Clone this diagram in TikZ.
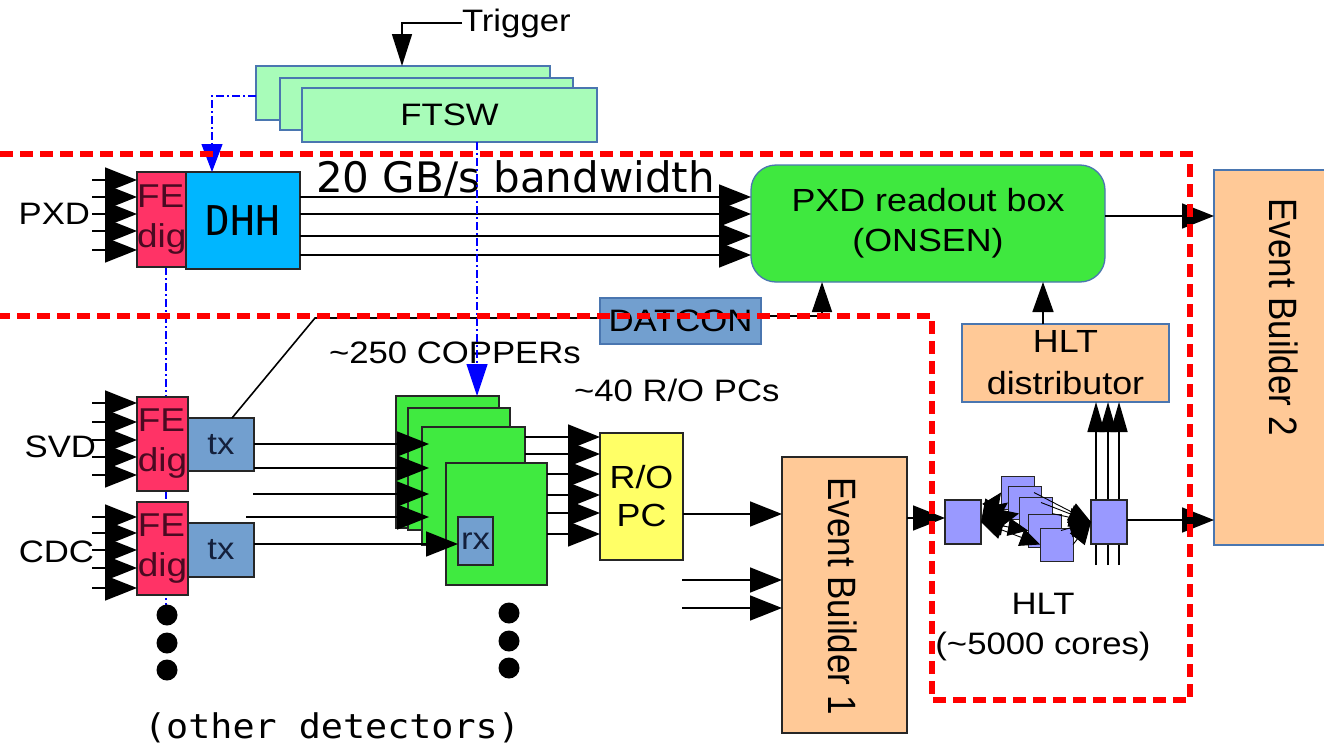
\documentclass[tikz,border=0pt]{standalone}
\usepackage{fontspec}
\setmainfont{Liberation Sans}[FakeStretch=1.12]
\newfontfamily\lsr{Liberation Sans}
\newfontfamily\djv{DejaVu Sans}
\newfontfamily\djm{DejaVu Sans Mono}
\newfontfamily\djmw{DejaVu Sans Mono}[FakeStretch=1.08]
\usetikzlibrary{arrows.meta,shapes.geometric}
\definecolor{fered}{HTML}{FF3366}
\definecolor{fetext}{HTML}{4A0A22}
\definecolor{txtext}{HTML}{14203C}
\definecolor{dhhblue}{HTML}{00B6FF}
\definecolor{onsgreen}{HTML}{3FE83F}
\definecolor{ftswgreen}{HTML}{A8FCB9}
\definecolor{bordblue}{HTML}{4A76B0}
\definecolor{peach}{HTML}{FFC997}
\definecolor{steel}{HTML}{729FCF}
\definecolor{hltp}{HTML}{9999FF}
\definecolor{roy}{HTML}{FFFF66}
\definecolor{cgreen}{HTML}{40EA40}
\begin{document}
\begin{tikzpicture}[x=1pt,y=-1pt,
  every node/.style={inner sep=0pt, outer sep=0pt},
  box/.style={draw, anchor=north west, line width=1.3pt},
  blk/.style={box, draw=black!85},
  bbl/.style={box, draw=bordblue},
  txt/.style={font=\fontsize{31}{40}\selectfont, align=center},
  fetxt/.style={font=\fontsize{33}{40}\selectfont, align=left, text=fetext},
  ar/.style={line width=1.6pt, -{Triangle[length=32pt,width=25pt]}},
  ln/.style={line width=1.6pt},
  har/.style={line width=0.9pt, {Triangle[length=22pt,width=19pt]}-{Triangle[length=20pt,width=18pt]}},
  har2/.style={line width=0.9pt, -{Triangle[length=22pt,width=19pt]}},
  bdash/.style={blue, line width=1.2pt, dash pattern=on 8pt off 3pt on 2pt off 3pt},
  rdash/.style={red, line width=5.5pt, dash pattern=on 13pt off 7pt},
  bigdot/.style={fill=black, ellipse, minimum width=21pt, minimum height=21pt},
  rot/.style={rotate=-90, font=\lsr\fontsize{35}{40}\selectfont}
]
\useasboundingbox (0,0) rectangle (1324,747);

% blue vertical dashed line behind the FE boxes
\coordinate (blueend) at (166,610);
\coordinate (bluetop) at (166,267);
\draw[bdash] (bluetop) -- (blueend);

% FTSW stack and trigger
\node[bbl, fill=ftswgreen, minimum width=294pt, minimum height=54pt] (ftsw1) at (256,66) {};
\node[bbl, fill=ftswgreen, minimum width=293pt, minimum height=52pt] (ftsw2) at (280,78) {};
\node[bbl, fill=ftswgreen, minimum width=295pt, minimum height=54pt, txt] (ftsw) at (302,88) {FTSW};
\coordinate (trigin) at (402,66);
\node[txt, anchor=west] (trig) at (462,23) {Trigger};
\draw[ln, -{Triangle[length=32pt,width=20pt]}] (trig.west) -| (trigin);

% PXD row
\node[txt, anchor=east] (pxdl) at (90,214) {PXD};
\node[blk, fill=fered, minimum width=49pt, minimum height=95pt, fetxt] (fepxd) at (137,172) {FE\\dig};
\node[blk, fill=dhhblue, minimum width=114pt, minimum height=97pt, font=\djm\fontsize{41}{48}\selectfont] (dhh) at (186,172) {DHH};
\foreach \y in {180,197,214,231,250} \draw[ar] (92,\y) -- (fepxd.west |- 0,\y);
\node[font=\djv\fontsize{42}{48}\selectfont, anchor=base west] (bw) at (316,192) {20 GB/s bandwidth};

\node[bbl, fill=onsgreen, rounded corners=25pt, minimum width=354pt, minimum height=117pt, txt, font=\fontsize{32}{40}\selectfont] (onsen) at (751,165) {PXD readout box\\(ONSEN)};
\foreach \y in {197,214,236,255} \draw[ar] (dhh.east |- 0,\y) -- (onsen.west |- 0,\y);

% Event builder 2
\node[bbl, fill=peach, minimum width=120pt, minimum height=375pt] (eb2) at (1214,170) {};
\node[rot] (eb2t) at (1284,317) {\scalebox{1}[1.13]{Event Builder 2}};
\draw[ar] (onsen.east |- 0,216) -- (eb2.west |- 0,216);

% DATCON
\node[bbl, fill=steel, minimum width=161pt, minimum height=46pt, txt] (datcon) at (600,298) {DATCON};

% HLT distributor
\node[bbl, fill=peach, minimum width=207pt, minimum height=78pt, txt, font=\fontsize{32}{42}\selectfont] (hltd) at (962,324) {HLT\\distributor};
\draw[ln, -{Triangle[length=30pt,width=21pt]}] (hltd.north -| 1043,0) -- (onsen.south -| 1043,0);

% SVD row
\node[txt, anchor=east] (svdl) at (96,447) {SVD};
\node[blk, fill=fered, minimum width=51pt, minimum height=94pt, fetxt] (fesvd) at (137,397) {FE\\dig};
\node[blk, fill=steel, minimum width=66pt, minimum height=53pt, txt, text=txtext] (txsvd) at (188,418) {tx};
\foreach \y in {403,422,440,457,475} \draw[ar] (92,\y) -- (fesvd.west |- 0,\y);

% CDC row
\node[txt, anchor=east] (cdcl) at (94,552) {CDC};
\node[blk, fill=fered, minimum width=51pt, minimum height=93pt, fetxt] (fecdc) at (137,502) {FE\\dig};
\node[blk, fill=steel, minimum width=66pt, minimum height=54pt, txt, text=txtext] (txcdc) at (188,523) {tx};
\foreach \y in {517,533,550,568,588} \draw[ar] (92,\y) -- (fecdc.west |- 0,\y);

% tx -> DATCON -> ONSEN
\coordinate (bend) at (315,318);
\draw[ln] (txsvd.north -| 232,0) -- (bend) -- (datcon.west |- 0,318);
\draw[ln, -{Triangle[length=30pt,width=20pt]}] (datcon.east |- 0,316) -| (onsen.south -| 822,0);

% COPPER stack
\node[blk, fill=cgreen, minimum width=103pt, minimum height=132pt] (cp1) at (396,396) {};
\node[blk, fill=cgreen, minimum width=102pt, minimum height=122pt] (cp2) at (408,408) {};
\node[blk, fill=cgreen, minimum width=103pt, minimum height=118pt] (cp3) at (422,427) {};
\node[blk, fill=cgreen, minimum width=101pt, minimum height=122pt] (cp4) at (446,463) {};
\node[blk, fill=steel, minimum width=35pt, minimum height=48pt, txt, text=txtext] (rx) at (458,517) {rx};
\node[txt, anchor=west] (cpl) at (329,353) {\textasciitilde 250 COPPERs};

\draw[ar, shorten >=-7pt] (txsvd.east |- 0,444) -- (cp3.west |- 0,444);
\draw[ar, shorten >=-7pt] (txsvd.east |- 0,468) -- (cp3.west |- 0,468);
\coordinate (f1) at (253,494);
\coordinate (f2) at (246,517);
\draw[ar, shorten >=-7pt] (f1) -- (cp3.west |- 0,494);
\draw[ar, shorten >=-7pt] (f2) -- (cp3.west |- 0,517);
\draw[ar] (txcdc.east |- 0,544) -- (rx.west |- 0,544);

% blue timing line FTSW -> COPPER and FTSW -> DHH
\draw[bdash, -{Triangle[length=32pt,width=21pt]}] (ftsw.south -| 477,0) -- (cp1.north -| 477,0);
\draw[bdash, -{Triangle[length=28pt,width=21pt]}] (ftsw1.west |- 0,96) -| (dhh.north -| 212,0);

% R/O PC
\node[blk, fill=roy, minimum width=83pt, minimum height=127pt, txt, font=\fontsize{32}{38}\selectfont] (ropc) at (600,433) {R/O\\PC};
\node[txt, anchor=west] (ropcl) at (574,390) {\textasciitilde 40 R/O PCs};
\foreach \y in {437,454} \draw[ar] (cp3.east |- 0,\y) -- (ropc.west |- 0,\y);
\foreach \y in {474,495,513,534} \draw[ar] (cp4.east |- 0,\y) -- (ropc.west |- 0,\y);

% Event builder 1
\node[blk, fill=peach, minimum width=125pt, minimum height=276pt] (eb1) at (782,457) {};
\node[rot] (eb1t) at (843,596) {\scalebox{1}[1.13]{Event Builder 1}};
\draw[ar] (ropc.east |- 0,514) -- (eb1.west |- 0,514);
\coordinate (g1) at (682,580);
\coordinate (g2) at (682,608);
\draw[ar] (g1) -- (eb1.west |- 0,580);
\draw[ar] (g2) -- (eb1.west |- 0,608);

% HLT farm
\foreach \x in {1096,1108,1119} \draw[ln, -{Triangle[length=30pt,width=17pt]}] (\x,565) -- (hltd.south -| \x,0);
\node[blk, fill=hltp, minimum width=36pt, minimum height=44pt] (hltl) at (945,500) {};
\node[blk, fill=hltp, minimum width=36pt, minimum height=44pt] (hltr) at (1091,500) {};
\foreach \n/\x/\y in {1/1001/476, 2/1008/486, 3/1019/497, 4/1028/514, 5/1040/528}
  \node[blk, fill=hltp, minimum width=33pt, minimum height=33pt, line width=1pt] (s\n) at (\x,\y) {};
\foreach \n in {1,...,5} {
  \draw[har] (hltl.east) -- (s\n.west);
  \draw[har2] (s\n.east) -- (hltr.west);
}
\draw[ar] (eb1.east |- 0,518) -- (hltl.west |- 0,518);
\draw[ar] (hltr.east |- 0,520) -- (eb2.west |- 0,520);
\node[txt] (hltlab) at (1043,627) {HLT\\(\textasciitilde 5000 cores)};

% dots and other detectors
\node[bigdot] (d1) at (167,615) {};
\node[bigdot] (d2) at (167,643) {};
\node[bigdot] (d3) at (167,670) {};
\node[bigdot] (d4) at (509,613) {};
\node[bigdot] (d5) at (509,641) {};
\node[bigdot] (d6) at (509,668) {};
\node[font=\djmw\fontsize{34}{40}\selectfont] (other) at (332,728) {(other detectors)};

% red dashed regions
\draw[rdash] (0,154) -- (1190,154) -- (1190,700) -- (932,700) -- (932,316) -- (0,316);
\end{tikzpicture}
\end{document}
